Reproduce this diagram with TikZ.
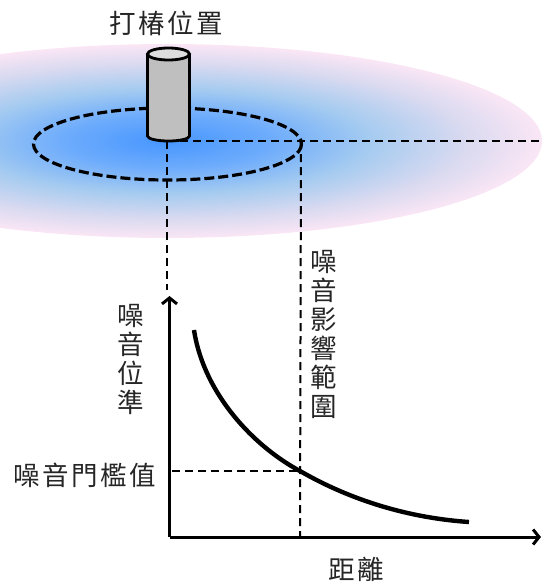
\documentclass[tikz,border=0pt]{standalone}
\usepackage{fontspec}
\usetikzlibrary{arrows.meta}
\newfontfamily\cjk[LetterSpace=9]{Noto Sans CJK TC}
\definecolor{glowa}{RGB}{70,150,255}
\definecolor{glowb}{RGB}{110,172,252}
\definecolor{glowc}{RGB}{165,203,240}
\definecolor{glowd}{RGB}{218,218,240}
\definecolor{glowe}{RGB}{250,230,245}
\pgfdeclareradialshading{noiseglow}{\pgfpoint{0bp}{0bp}}{%
  color(0bp)=(glowa);
  color(7bp)=(glowb);
  color(13.5bp)=(glowc);
  color(20bp)=(glowd);
  color(25bp)=(glowe);
  color(50bp)=(glowe)}
\tikzset{
  label text/.style={font=\cjk\fontsize{26.5}{29}\selectfont, text=black!85, inner sep=0pt, align=center},
  guide/.style={draw=black, line width=2pt, dash pattern=on 8pt off 5pt},
  ring/.style={draw=black, line width=3.2pt, dash pattern=on 10pt off 4pt},
  pile/.style={draw=black, line width=2.8pt},
  axis/.style={draw=black, line width=3pt, -{Straight Barb[length=6pt,width=15pt,line width=3pt]}},
  decay/.style={draw=black, line width=4.4pt}
}
\begin{document}
\begin{tikzpicture}[x=1pt,y=-1pt]
  \useasboundingbox (0,0) rectangle (542,587);
  % noise footprint on the ground
  \begin{scope}
    \clip (0,0) rectangle (542,587);
    \shade[shading=noiseglow] (167,141) ellipse [x radius=375, y radius=97];
  \end{scope}
  % reference points
  \coordinate (pilefoot) at (167,141);
  \coordinate (rim) at (301,141);
  \coordinate (east) at (542,141);
  \coordinate (origin) at (169.5,537);
  \coordinate (ytop) at (169.5,296);
  \coordinate (xend) at (541,537);
  \coordinate (rimfoot) at (300,537);
  \coordinate (thresh) at (172,471);
  \coordinate (cross) at (300,471);
  \coordinate (pileaxis) at (167,290);
  % impact range ring
  \draw[ring] (167.5,144) ellipse [x radius=134, y radius=36];
  % projection guides
  \draw[guide] (pilefoot) -- (east);
  \draw[guide] (pilefoot) -- (pileaxis);
  \draw[guide] (rim) -- (rimfoot);
  \draw[guide] (thresh) -- (cross);
  % pile
  \fill[black!25] (147.5,54) -- (147.5,136) arc [start angle=180, end angle=0, x radius=21, y radius=5] -- (189.5,54) -- cycle;
  \draw[pile] (147.5,54) -- (147.5,136) arc [start angle=180, end angle=0, x radius=21, y radius=5] -- (189.5,54);
  \draw[pile, fill=black!13] (168.5,54) ellipse [x radius=21, y radius=6];
  % axes and decay curve
  \draw[axis] (origin) -- (ytop);
  \draw[axis] (origin) -- (xend);
  \draw[decay] (194,330) .. controls (204,395) and (255,447) .. (cross)
    .. controls (352,501) and (410,518) .. (469,522);
  % labels
  \node[label text] (site) at (166,23) {打椿位置};
  \node[label text] (range) at (323.5,334) {噪\\音\\影\\響\\範\\圍};
  \node[label text] (level) at (131,359.5) {噪\\音\\位\\準};
  \node[label text] (limit) at (85,475) {噪音門檻值};
  \node[label text] (dist) at (356,569) {距離};
\end{tikzpicture}
\end{document}
